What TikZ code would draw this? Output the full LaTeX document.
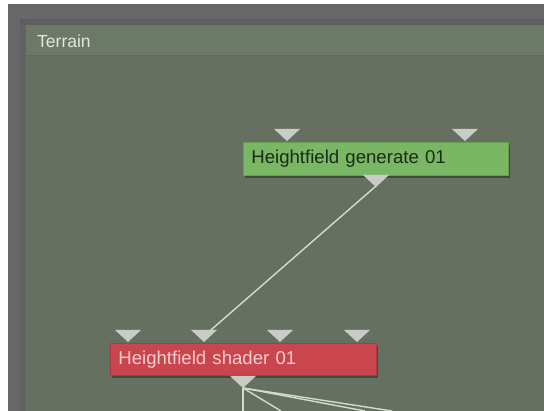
\documentclass[tikz,border=0pt]{standalone}
\usepackage{fontspec}
\setmainfont{Liberation Sans}
\usetikzlibrary{shadows}
\definecolor{framecol}{HTML}{676669}
\definecolor{framedark}{HTML}{58575A}
\definecolor{headcol}{HTML}{6D7967}
\definecolor{bodycol}{HTML}{667061}
\definecolor{titlecol}{HTML}{E2E8DE}
\definecolor{genfill}{HTML}{7AB764}
\definecolor{gendraw}{HTML}{63A04F}
\definecolor{gentext}{HTML}{1C2A18}
\definecolor{shfill}{HTML}{C9464F}
\definecolor{shdraw}{HTML}{AE3941}
\definecolor{shtext}{HTML}{F2CFCF}
\definecolor{portcol}{HTML}{C9CCC6}
\definecolor{wirecol}{HTML}{D6D9D2}
\tikzset{
  x=1pt, y=-1pt,
  nodebox/.style={anchor=north west, inner xsep=8pt, inner ysep=0pt, align=left,
    font=\fontsize{18.6}{20}\selectfont, line width=0.8pt,
    drop shadow={shadow xshift=1.5pt, shadow yshift=-2.5pt, opacity=0.35, fill=black}},
  genbox/.style={nodebox, fill=genfill, draw=gendraw, text=gentext},
  shbox/.style={nodebox, fill=shfill, draw=shdraw, text=shtext},
  wire/.style={draw=wirecol, line width=1.4pt},
  port/.pic={\fill[portcol] (-13,0) -- (13,0) -- (0,12) -- cycle;}
}
\begin{document}
\begin{tikzpicture}
\useasboundingbox (0,0) rectangle (544,411);
\fill[white] (0,0) rectangle (544,411);
% outer frame
\fill[framecol] (8,4) rectangle (544,411);
\fill[framedark, opacity=0.5] (20,19) rectangle (544,25);
\fill[framedark, opacity=0.3] (20,19) rectangle (26,411);
% panel
\fill[bodycol] (26,25) rectangle (544,411);
\fill[headcol] (26,25) rectangle (544,55);
\draw[framedark, opacity=0.3, line width=0.8pt] (26,55.5) -- (544,55.5);
\node[anchor=west, text=titlecol, font=\fontsize{17.5}{20}\selectfont, inner sep=0pt] (title) at (37,41) {Terrain};

% connection points
\coordinate (genout) at (376,186);
\coordinate (shin2) at (204,336);
\coordinate (shout) at (243,388);
\coordinate (endA) at (243,411);
\coordinate (endB) at (281,411);
\coordinate (endC) at (365,411);
\coordinate (endD) at (392,411);

% wires
\draw[wire] (genout) -- (shin2);
\draw[wire] (shout) -- (endA);
\draw[wire] (shout) -- (endB);
\draw[wire] (shout) -- (endC);
\draw[wire] (shout) -- (endD);

% nodes
\node[genbox, minimum width=265pt, minimum height=33pt, text width=249pt] (gen) at (243,142) {Heightfield generate 01};
\node[shbox, minimum width=266pt, minimum height=32pt, text width=250pt] (shader) at (110,343) {Heightfield shader 01};

% ports
\pic at (287,129) {port};
\pic at (465,129) {port};
\pic at (376,175) {port};
\pic at (128,330) {port};
\pic at (204,330) {port};
\pic at (280,330) {port};
\pic at (357,330) {port};
\pic at (243,376) {port};
\end{tikzpicture}
\end{document}
